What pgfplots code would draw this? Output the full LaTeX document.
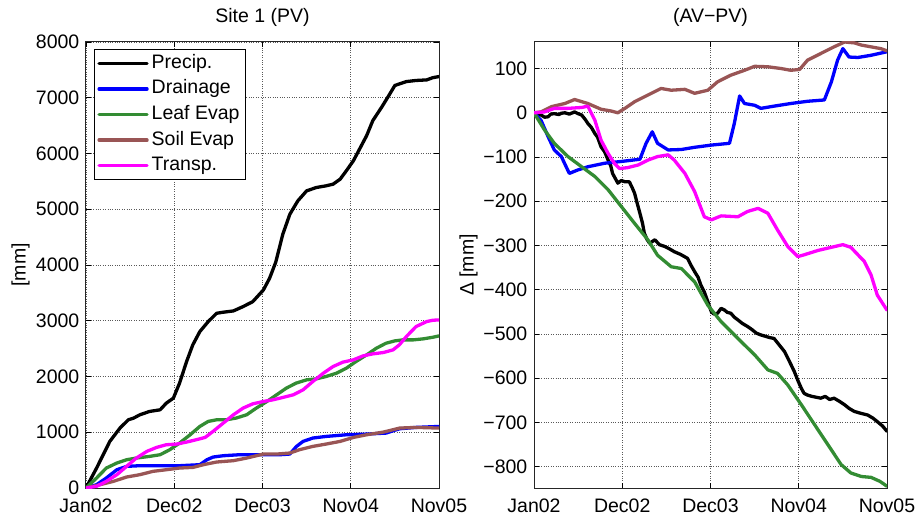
\documentclass[border=0pt]{standalone}
\usepackage{fontspec}
\setmainfont{Liberation Sans}
\usepackage{pgfplots}
\pgfplotsset{compat=1.18}

\definecolor{leafgreen}{RGB}{51,140,51}
\definecolor{soilbrown}{RGB}{153,85,85}
\definecolor{transp}{RGB}{255,0,255}
\definecolor{drain}{RGB}{0,0,255}

\newcommand{\chartfont}{\fontsize{19.5bp}{23bp}\selectfont}

\pgfplotsset{
  hydro/.style={
    scale only axis, width=353bp, height=446bp,
    xmin=0, xmax=4,
    xtick={0,1,2,3,4},
    xticklabels={Jan02,Dec02,Dec03,Nov04,Nov05},
    grid=major,
    major grid style={dotted, line width=0.7bp, black!65},
    tick align=inside, major tick length=5bp,
    tick style={black, line width=0.8bp},
    axis line style={line width=1bp, black!85},
    font=\chartfont,
    every tick label/.append style={font=\chartfont},
    xticklabel style={inner sep=0pt, yshift=-10.5bp},
    yticklabel style={inner ysep=0pt, inner xsep=6.5bp},
    title style={at={(axis description cs:0.5,1)}, anchor=base, yshift=14bp},
    ylabel style={at={(axis description cs:-0.185,0.5)}, anchor=center},
    every axis plot/.append style={line width=3.3bp, line join=round, line cap=round},
  },
}

\begin{document}
\begin{tikzpicture}
\path[use as bounding box] (-86bp,-28.5bp) rectangle (832bp,488bp);

% ---------------- cumulative fluxes, site 1 ----------------
\begin{axis}[hydro,
  at={(0bp,0bp)}, anchor=south west,
  ymin=0, ymax=8000,
  ytick={0,1000,2000,3000,4000,5000,6000,7000,8000},
  yticklabels={0,1000,2000,3000,4000,5000,6000,7000,8000},
  title={Site 1 (PV)},
  ylabel={[mm]},
  legend cell align=left,
  legend style={at={(axis description cs:0.0227,0.984)}, anchor=north west,
    draw=black, line width=0.8bp, inner xsep=3bp, inner ysep=1bp,
    nodes={inner ysep=3.8bp, inner xsep=3bp, text height=14bp, text depth=4bp},
    font=\chartfont},
  legend image code/.code={\draw[#1] (0bp,0bp) -- (48bp,0bp);},
]
\addplot[black] table {
0 0
0.12 358
0.27 836
0.385 1075
0.48 1224
0.54 1254
0.61 1313
0.72 1373
0.84 1403
0.91 1522
0.99 1612
1.06 1881
1.14 2269
1.21 2567
1.29 2806
1.385 2985
1.48 3134
1.55 3152
1.67 3176
1.78 3254
1.89 3343
2.01 3552
2.08 3761
2.15 4050
2.23 4551
2.31 4911
2.40 5150
2.50 5330
2.61 5390
2.72 5420
2.80 5450
2.88 5540
2.95 5690
3.03 5870
3.10 6080
3.18 6320
3.25 6590
3.35 6830
3.42 7010
3.50 7220
3.555 7250
3.63 7290
3.74 7310
3.86 7320
3.93 7360
4.0 7380
};
\addlegendentry{Precip.}
\addplot[drain] table {
0 0
0.12 60
0.23 179
0.35 328
0.46 388
0.61 400
0.84 400
1.06 400
1.29 418
1.37 507
1.44 555
1.555 579
1.74 597
1.97 597
2.20 597
2.31 609
2.385 746
2.46 836
2.57 896
2.72 925
2.95 955
3.18 967
3.40 985
3.48 1027
3.555 1063
3.74 1087
4.0 1104
};
\addlegendentry{Drainage}
\addplot[leafgreen] table {
0 0
0.12 179
0.23 358
0.35 448
0.46 507
0.57 537
0.72 567
0.84 597
0.95 687
1.06 806
1.18 955
1.29 1104
1.385 1194
1.48 1224
1.59 1224
1.70 1254
1.82 1313
1.93 1433
2.05 1552
2.16 1672
2.27 1791
2.38 1881
2.50 1940
2.61 1958
2.72 2000
2.84 2060
2.95 2149
3.06 2269
3.18 2388
3.29 2507
3.40 2597
3.50 2639
3.59 2657
3.71 2657
3.82 2675
3.93 2704
4.0 2728
};
\addlegendentry{Leaf Evap}
\addplot[soilbrown] table {
0 0
0.16 60
0.31 119
0.46 197
0.61 239
0.76 299
0.91 328
1.06 358
1.215 370
1.33 418
1.48 466
1.67 490
1.82 537
2.01 609
2.16 609
2.31 627
2.42 687
2.57 746
2.72 788
2.88 836
3.03 907
3.18 955
3.37 1003
3.555 1075
3.74 1087
4.0 1075
};
\addlegendentry{Soil Evap}
\addplot[transp] table {
0 0
0.12 30
0.23 119
0.35 239
0.46 388
0.57 537
0.69 657
0.80 728
0.91 776
1.03 788
1.14 824
1.25 866
1.35 907
1.44 1015
1.555 1164
1.67 1313
1.78 1433
1.89 1510
2.01 1552
2.12 1582
2.23 1624
2.35 1672
2.46 1761
2.57 1910
2.69 2060
2.80 2179
2.91 2257
3.03 2299
3.14 2370
3.25 2406
3.37 2430
3.48 2478
3.55 2567
3.63 2716
3.74 2896
3.86 2985
3.93 3009
4.0 3015
};
\addlegendentry{Transp.}
\end{axis}

% ---------------- differences AV minus PV ----------------
\begin{axis}[hydro,
  at={(448bp,0bp)}, anchor=south west,
  ymin=-848, ymax=160,
  ytick={-800,-700,-600,-500,-400,-300,-200,-100,0,100},
  yticklabels={−800,−700,−600,−500,−400,−300,−200,−100,0,100},
  title={(AV−PV)},
  ylabel={Δ [mm]},
]
\addplot[black] table {
0 0
0.05 -3
0.08 -5
0.12 -10
0.16 -9
0.19 -3
0.23 -2
0.28 -4
0.31 -1
0.35 0
0.40 -3
0.46 2
0.50 -2
0.54 -5
0.58 -15
0.61 -24
0.65 -33
0.69 -47
0.72 -55
0.76 -77
0.80 -88
0.84 -107
0.87 -120
0.89 -137
0.92 -148
0.95 -159
0.99 -153
1.03 -156
1.08 -156
1.11 -168
1.14 -182
1.17 -205
1.20 -227
1.23 -250
1.25 -272
1.28 -286
1.31 -295
1.34 -291
1.37 -287
1.42 -298
1.48 -302
1.53 -307
1.59 -314
1.66 -320
1.74 -329
1.78 -345
1.82 -359
1.86 -372
1.89 -389
1.93 -405
1.97 -427
2.01 -450
2.04 -455
2.08 -453
2.12 -442
2.16 -446
2.19 -451
2.23 -453
2.27 -462
2.31 -468
2.36 -476
2.42 -483
2.47 -490
2.52 -498
2.57 -502
2.62 -505
2.67 -508
2.72 -510
2.78 -525
2.84 -540
2.89 -560
2.95 -585
2.99 -605
3.03 -623
3.06 -634
3.10 -638
3.15 -641
3.20 -643
3.25 -645
3.30 -641
3.35 -648
3.40 -645
3.46 -652
3.52 -660
3.57 -668
3.63 -675
3.70 -679
3.78 -683
3.84 -690
3.89 -698
3.95 -708
4.0 -720
};
\addplot[drain] table {
0 0
0.08 -17
0.16 -54
0.23 -84
0.31 -99
0.40 -137
0.50 -129
0.61 -122
0.80 -114
0.99 -110
1.20 -105
1.27 -69
1.34 -43
1.40 -69
1.52 -84
1.67 -83
1.82 -78
2.01 -73
2.215 -69
2.27 -24
2.33 38
2.385 21
2.50 17
2.57 10
2.72 15
2.91 21
3.10 26
3.29 29
3.37 70
3.44 119
3.50 145
3.57 126
3.67 125
3.82 130
4.0 138
};
\addplot[leafgreen] table {
0 0
0.12 -39
0.23 -69
0.385 -99
0.54 -122
0.69 -144
0.84 -174
0.99 -212
1.14 -250
1.29 -287
1.40 -322
1.555 -348
1.67 -352
1.82 -382
1.97 -435
2.12 -472
2.31 -510
2.50 -547
2.65 -581
2.76 -589
2.875 -615
3.03 -660
3.18 -705
3.33 -750
3.48 -795
3.59 -814
3.71 -822
3.82 -824
3.92 -833
4.0 -844
};
\addplot[soilbrown] table {
0 0
0.08 2
0.20 14
0.35 21
0.46 30
0.61 21
0.76 8
0.875 4
0.95 0
1.03 10
1.14 25
1.29 40
1.44 55
1.555 51
1.71 53
1.82 44
1.97 51
2.08 70
2.23 85
2.385 96
2.50 105
2.65 104
2.80 100
2.91 96
3.01 98
3.10 119
3.25 134
3.40 149
3.52 160
3.63 158
3.71 153
3.82 149
3.93 145
4.0 140
};
\addplot[transp] table {
0 0
0.12 2
0.23 10
0.385 10
0.54 12
0.61 15
0.69 -17
0.76 -62
0.84 -92
0.91 -114
0.97 -126
1.06 -124
1.18 -118
1.29 -107
1.40 -99
1.52 -95
1.59 -107
1.71 -137
1.82 -178
1.93 -235
2.01 -242
2.12 -233
2.31 -235
2.42 -223
2.54 -216
2.65 -227
2.76 -265
2.875 -302
2.99 -325
3.06 -321
3.22 -311
3.37 -304
3.50 -298
3.59 -304
3.69 -325
3.74 -335
3.82 -367
3.89 -412
4.0 -446
};
\end{axis}
\end{tikzpicture}
\end{document}
